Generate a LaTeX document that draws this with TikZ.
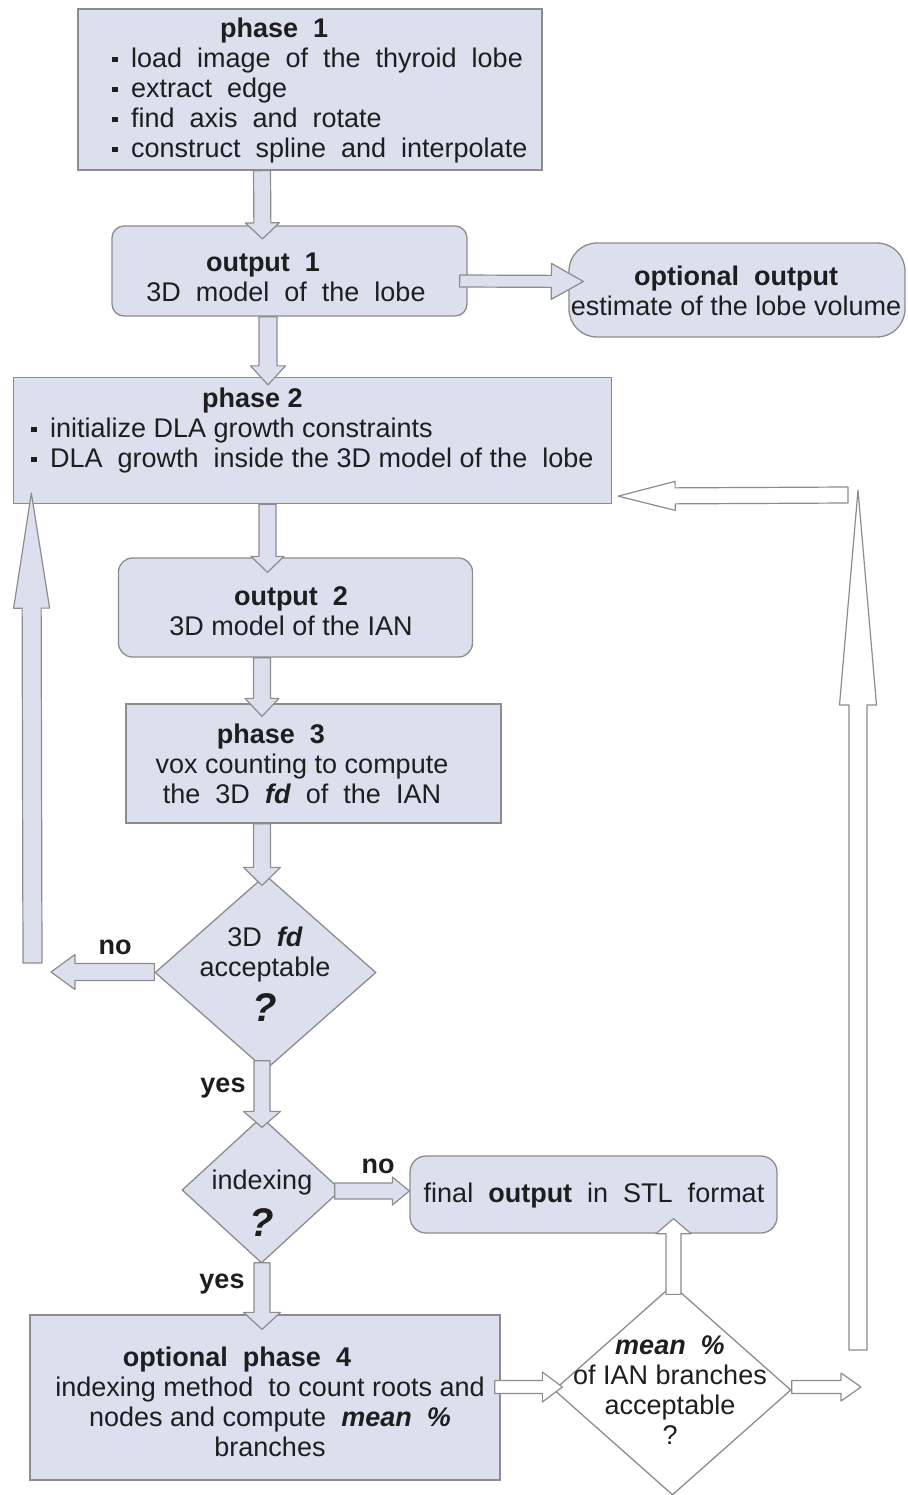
\documentclass[tikz,border=0pt]{standalone}
\usepackage{fontspec}
\setmainfont{Liberation Sans}
\usetikzlibrary{shapes.geometric,calc}
\definecolor{boxfill}{RGB}{220,224,238}
\definecolor{boxline}{RGB}{140,140,140}
\definecolor{txtcol}{RGB}{30,30,30}
\newcommand\bul{\rule[0.22em]{0.2em}{0.2em}\hspace{0.5em}}
\newcommand\bigq{{\fontsize{40}{40}\selectfont\bfseries\itshape ?}}
% block arrow: [style]{start}{tip}{shaft half}{head half}{head length}
\newcommand\blockarrow[6][]{%
  \coordinate (ba-s) at (#2);
  \coordinate (ba-e) at (#3);
  \coordinate (ba-h) at ($(ba-e)!#6pt!(ba-s)$);
  \draw[#1] ($(ba-s)!#4pt!90:(ba-e)$) -- ($(ba-h)!#4pt!-90:(ba-s)$) -- ($(ba-h)!#5pt!-90:(ba-s)$) -- (ba-e) -- ($(ba-h)!#5pt!90:(ba-s)$) -- ($(ba-h)!#4pt!90:(ba-s)$) -- ($(ba-s)!#4pt!-90:(ba-e)$) -- cycle;}
\begin{document}
\begin{tikzpicture}[x=1pt,y=-1pt,
  box/.style={draw=boxline,fill=boxfill,line width=1.3pt,inner sep=0pt},
  rbox/.style={box,rounded corners=#1},
  dia/.style={box,diamond},
  txt/.style={text=txtcol,font=\fontsize{27}{30}\selectfont,inner sep=0pt},
  lbl/.style={txt,font=\fontsize{27}{30}\selectfont\bfseries},
  barrow/.style={draw=boxline,fill=boxfill,line width=1.2pt,line join=round},
  warrow/.style={draw=boxline,fill=white,line width=1.2pt,line join=round}]
\useasboundingbox (0,0) rectangle (907,1495);
% boxes
\node[box,minimum width=464pt,minimum height=161pt] (p1) at (310,89.5) {};
\node[rbox=12pt,minimum width=355pt,minimum height=90pt] (o1) at (289.5,271) {};
\node[rbox=28pt,minimum width=336pt,minimum height=94pt] (opt) at (737,290) {};
\node[box,minimum width=598pt,minimum height=126pt] (p2) at (312.5,440.5) {};
\node[rbox=14pt,minimum width=354pt,minimum height=99pt] (o2) at (295.5,607.5) {};
\node[box,minimum width=375pt,minimum height=119pt] (p3) at (313.5,763.5) {};
\node[dia,minimum width=221pt,minimum height=195pt] (d1) at (265.5,972.5) {};
\node[dia,minimum width=159pt,minimum height=146pt] (d2) at (261.5,1190) {};
\node[rbox=16pt,minimum width=367pt,minimum height=77pt] (final) at (593.5,1194.5) {};
\node[box,minimum width=470pt,minimum height=165pt] (p4) at (265,1397.5) {};
\node[dia,fill=white,minimum width=237pt,minimum height=210pt] (d3) at (672.5,1390) {};
% free ends
\coordinate (noEnd) at (51,972);
\coordinate (upLbot) at (32.5,963);
\coordinate (rEnd) at (861,1387);
\coordinate (upRbot) at (858,1350);
\coordinate (upRtop) at (858,490);
\coordinate (backStart) at (848,495);
% arrows
\blockarrow[barrow]{$(p1.south)+(-48,0)$}{$(o1.north)+(-27,13.5)$}{8.5}{17}{16}
\blockarrow[barrow]{$(o1.east)+(-8,10)$}{$(opt.west)+(15,-8.5)$}{6}{18}{32}
\blockarrow[barrow]{$(o1.south)+(-21.5,0)$}{$(p2.north)+(-44.5,8)$}{9}{17.5}{19}
\blockarrow[barrow]{$(p2.south)+(-45,0)$}{$(o2.north)+(-28,15)$}{8.5}{16.5}{16}
\blockarrow[barrow]{$(o2.south)+(-33.5,0)$}{$(p3.north)+(-51.5,13)$}{8.5}{17}{18}
\blockarrow[barrow]{$(p3.south)+(-51.5,0)$}{$(d1.north)+(-3.5,11)$}{8.5}{18.5}{18}
\blockarrow[barrow]{$(d1.west)+(0,-0.5)$}{noEnd}{8.5}{17.5}{24}
\blockarrow[barrow]{upLbot}{$(p2.south west)+(18.5,-11)$}{9.5}{18}{115}
\blockarrow[barrow]{$(d1.south)+(-3.5,-10)$}{$(d2.north)+(0.5,11)$}{8}{18.5}{16}
\blockarrow[barrow]{$(d2.east)+(-7,1)$}{$(final.west)+(0,-3.5)$}{8}{14}{17}
\blockarrow[barrow]{$(d2.south)+(0.5,-1)$}{$(p4.north)+(-3,15)$}{8}{18.5}{17}
\blockarrow[warrow]{$(p4.east)+(-6,-10.5)$}{$(d3.west)+(9,-3)$}{6.5}{15}{20}
\blockarrow[warrow]{$(d3.north)+(1,10)$}{$(final.south)+(80,-15)$}{7.5}{17.5}{15}
\blockarrow[warrow]{$(d3.east)+(0,-3)$}{rEnd}{6.5}{14}{20}
\blockarrow[warrow]{upRbot}{upRtop}{9}{18.5}{215}
\blockarrow[warrow]{backStart}{$(p2.south east)+(6,-8)$}{8}{14.5}{57}
% texts
\node[txt,anchor=west,align=left] (p1t) at (112,91) {\hspace*{108pt}\textbf{phase~~1}\\ \bul load~~image~~of~~the~~thyroid~~lobe\\ \bul extract~~edge\\ \bul find~~axis~~and~~rotate\\ \bul construct~~spline~~and~~interpolate};
\node[txt,align=center] (o1t) at (286,277) {\hspace*{-46pt}\textbf{output~~1}\\ 3D~~model~~of~~the~~lobe};
\node[txt,align=center] (optt) at (736,290.5) {\textbf{optional~~output}\\ estimate of the lobe volume};
\node[txt,anchor=west,align=left] (p2t) at (31,431) {\hspace*{171pt}\textbf{phase 2}\\ \bul initialize DLA growth constraints\\ \bul DLA~~growth~~inside the 3D model of the~~lobe};
\node[txt,align=center] (o2t) at (291,611) {\textbf{output~~2}\\ 3D model of the IAN};
\node[txt,align=center] (p3t) at (302,764) {\hspace*{-62pt}\textbf{phase~~3}\\ vox counting to compute\\ the~~3D~~\textbf{\textit{fd}}~~of~~the~~IAN};
\node[txt,align=center] (d1t) at (265,974) {3D~~\textbf{\textit{fd}}\\ acceptable\\[10pt] \bigq};
\node[txt,align=center] (d2t) at (262,1203) {indexing\\[12pt] \bigq};
\node[txt,align=center] (d3t) at (670,1390) {\textbf{\textit{mean~~\%}}\\ of IAN branches\\ acceptable\\ ?};
\node[txt] (finalt) at (594,1196) {final~~\textbf{output}~~in~~STL~~format};
\node[txt,align=center] (p4t) at (270,1402) {\hspace*{-66pt}\textbf{optional~~phase~~4}\\ indexing method~~to count roots and\\ nodes and compute~~\textbf{\textit{mean~~\%}}\\ branches};
\node[lbl] (no1) at (115,947) {no};
\node[lbl] (yes1) at (223,1088) {yes};
\node[lbl] (no2) at (378,1166) {no};
\node[lbl] (yes2) at (222,1284) {yes};
\end{tikzpicture}
\end{document}
